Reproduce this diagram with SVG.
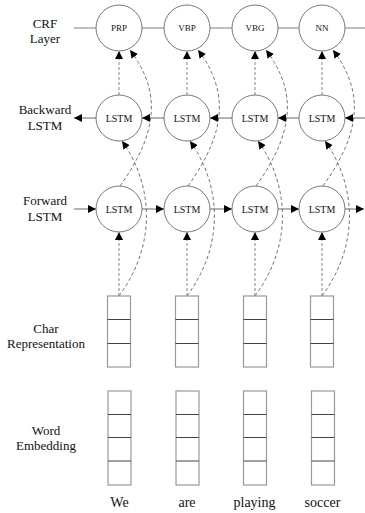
<svg xmlns="http://www.w3.org/2000/svg" width="365" height="513" viewBox="0 0 365 513" font-family="'Liberation Serif', 'Times New Roman', 'DejaVu Serif', serif">
<defs>
<marker id="ah" viewBox="0 0 10 10" refX="10" refY="5" markerWidth="8" markerHeight="8" markerUnits="userSpaceOnUse" orient="auto">
<path d="M0,0 L10,5 L0,10 z" fill="#000"/>
</marker>
</defs>
<style>
text{font-family:'Liberation Serif','Times New Roman','DejaVu Serif',serif}
.lbl{font-size:13px;fill:#111;text-anchor:middle}
.word{font-size:14px;fill:#111;text-anchor:middle}
.tag{font-size:9px;fill:#111;text-anchor:middle}
.lstm{font-size:10px;fill:#111;text-anchor:middle}
.node{fill:#fff;stroke:#777;stroke-width:1}
.crf{stroke:#aaa;stroke-width:1.3;fill:none}
.h{stroke:#666;stroke-width:1;fill:none;marker-end:url(#ah)}
.v{stroke:#999;stroke-width:1.2;stroke-dasharray:3,2;fill:none;marker-end:url(#ah)}
.c{stroke:#666;stroke-width:0.9;stroke-dasharray:3.5,2.5;fill:none;marker-end:url(#ah)}
.box{fill:#fff;stroke:#999;stroke-width:1.2}
.div{stroke:#444;stroke-width:1}
</style>
<g id="labels">
<text class="lbl" x="45" y="28">CRF</text>
<text class="lbl" x="45" y="43">Layer</text>
<text class="lbl" x="45" y="114">Backward</text>
<text class="lbl" x="45" y="130">LSTM</text>
<text class="lbl" x="45" y="205">Forward</text>
<text class="lbl" x="45" y="221">LSTM</text>
<text class="lbl" x="46" y="333">Char</text>
<text class="lbl" x="46" y="348">Representation</text>
<text class="lbl" x="46" y="435">Word</text>
<text class="lbl" x="46" y="450">Embedding</text>
</g>
<g id="connectors">
<line class="crf" x1="74" y1="28" x2="365" y2="28"/>
<line class="h" x1="96" y1="118" x2="74" y2="118"/>
<line class="h" x1="164" y1="118" x2="142" y2="118"/>
<line class="h" x1="232" y1="118" x2="210" y2="118"/>
<line class="h" x1="299" y1="118" x2="278" y2="118"/>
<line class="h" x1="365" y1="118" x2="345" y2="118"/>
<line class="h" x1="74" y1="209" x2="96" y2="209"/>
<line class="h" x1="142" y1="209" x2="164" y2="209"/>
<line class="h" x1="210" y1="209" x2="232" y2="209"/>
<line class="h" x1="278" y1="209" x2="299" y2="209"/>
<line class="h" x1="345" y1="209" x2="364" y2="209"/>
<g id="up0">
<line class="v" x1="119" y1="95" x2="119" y2="51"/>
<line class="v" x1="119" y1="296" x2="119" y2="232"/>
<path class="c" d="M120,186 C160,130 160,90 130,50"/>
<path class="c" d="M119,296 C160,240 150,180 122,141"/>
</g>
<g id="up1">
<line class="v" x1="187" y1="95" x2="187" y2="51"/>
<line class="v" x1="187" y1="296" x2="187" y2="232"/>
<path class="c" d="M188,186 C228,130 228,90 198,50"/>
<path class="c" d="M187,296 C228,240 218,180 190,141"/>
</g>
<g id="up2">
<line class="v" x1="255" y1="95" x2="255" y2="51"/>
<line class="v" x1="255" y1="296" x2="255" y2="232"/>
<path class="c" d="M256,186 C296,130 296,90 266,50"/>
<path class="c" d="M255,296 C296,240 286,180 258,141"/>
</g>
<g id="up3">
<line class="v" x1="322" y1="95" x2="322" y2="51"/>
<line class="v" x1="322" y1="296" x2="322" y2="232"/>
<path class="c" d="M323,186 C363,130 363,90 333,50"/>
<path class="c" d="M322,296 C363,240 353,180 325,141"/>
</g>
</g>
<g id="crf-PRP"><circle class="node" cx="119" cy="28" r="23"/><text class="tag" x="119" y="31">PRP</text></g>
<g id="crf-VBP"><circle class="node" cx="187" cy="28" r="23"/><text class="tag" x="187" y="31">VBP</text></g>
<g id="crf-VBG"><circle class="node" cx="255" cy="28" r="23"/><text class="tag" x="255" y="31">VBG</text></g>
<g id="crf-NN"><circle class="node" cx="322" cy="28" r="23"/><text class="tag" x="322" y="31">NN</text></g>
<g id="bw0"><circle class="node" cx="119" cy="118" r="23"/><text class="lstm" x="119" y="121.5">LSTM</text></g>
<g id="bw1"><circle class="node" cx="187" cy="118" r="23"/><text class="lstm" x="187" y="121.5">LSTM</text></g>
<g id="bw2"><circle class="node" cx="255" cy="118" r="23"/><text class="lstm" x="255" y="121.5">LSTM</text></g>
<g id="bw3"><circle class="node" cx="322" cy="118" r="23"/><text class="lstm" x="322" y="121.5">LSTM</text></g>
<g id="fw0"><circle class="node" cx="119" cy="209" r="23"/><text class="lstm" x="119" y="212.5">LSTM</text></g>
<g id="fw1"><circle class="node" cx="187" cy="209" r="23"/><text class="lstm" x="187" y="212.5">LSTM</text></g>
<g id="fw2"><circle class="node" cx="255" cy="209" r="23"/><text class="lstm" x="255" y="212.5">LSTM</text></g>
<g id="fw3"><circle class="node" cx="322" cy="209" r="23"/><text class="lstm" x="322" y="212.5">LSTM</text></g>
<g id="char0"><rect class="box" x="107.5" y="296" width="23" height="71"/><line class="div" x1="107.5" y1="319.5" x2="130.5" y2="319.5"/><line class="div" x1="107.5" y1="343.5" x2="130.5" y2="343.5"/></g>
<g id="char1"><rect class="box" x="175.5" y="296" width="23" height="71"/><line class="div" x1="175.5" y1="319.5" x2="198.5" y2="319.5"/><line class="div" x1="175.5" y1="343.5" x2="198.5" y2="343.5"/></g>
<g id="char2"><rect class="box" x="243.5" y="296" width="23" height="71"/><line class="div" x1="243.5" y1="319.5" x2="266.5" y2="319.5"/><line class="div" x1="243.5" y1="343.5" x2="266.5" y2="343.5"/></g>
<g id="char3"><rect class="box" x="310.5" y="296" width="23" height="71"/><line class="div" x1="310.5" y1="319.5" x2="333.5" y2="319.5"/><line class="div" x1="310.5" y1="343.5" x2="333.5" y2="343.5"/></g>
<g id="emb0"><rect class="box" x="108" y="391" width="23" height="94"/><line class="div" x1="108" y1="414.5" x2="131" y2="414.5"/><line class="div" x1="108" y1="437.5" x2="131" y2="437.5"/><line class="div" x1="108" y1="461" x2="131" y2="461"/></g>
<g id="emb1"><rect class="box" x="176" y="391" width="23" height="94"/><line class="div" x1="176" y1="414.5" x2="199" y2="414.5"/><line class="div" x1="176" y1="437.5" x2="199" y2="437.5"/><line class="div" x1="176" y1="461" x2="199" y2="461"/></g>
<g id="emb2"><rect class="box" x="243.5" y="391" width="23" height="94"/><line class="div" x1="243.5" y1="414.5" x2="266.5" y2="414.5"/><line class="div" x1="243.5" y1="437.5" x2="266.5" y2="437.5"/><line class="div" x1="243.5" y1="461" x2="266.5" y2="461"/></g>
<g id="emb3"><rect class="box" x="311.5" y="391" width="23" height="94"/><line class="div" x1="311.5" y1="414.5" x2="334.5" y2="414.5"/><line class="div" x1="311.5" y1="437.5" x2="334.5" y2="437.5"/><line class="div" x1="311.5" y1="461" x2="334.5" y2="461"/></g>
<g id="words">
<text class="word" x="119.5" y="507">We</text>
<text class="word" x="187" y="507">are</text>
<text class="word" x="254.5" y="507">playing</text>
<text class="word" x="322.5" y="507">soccer</text>
</g>
</svg>
